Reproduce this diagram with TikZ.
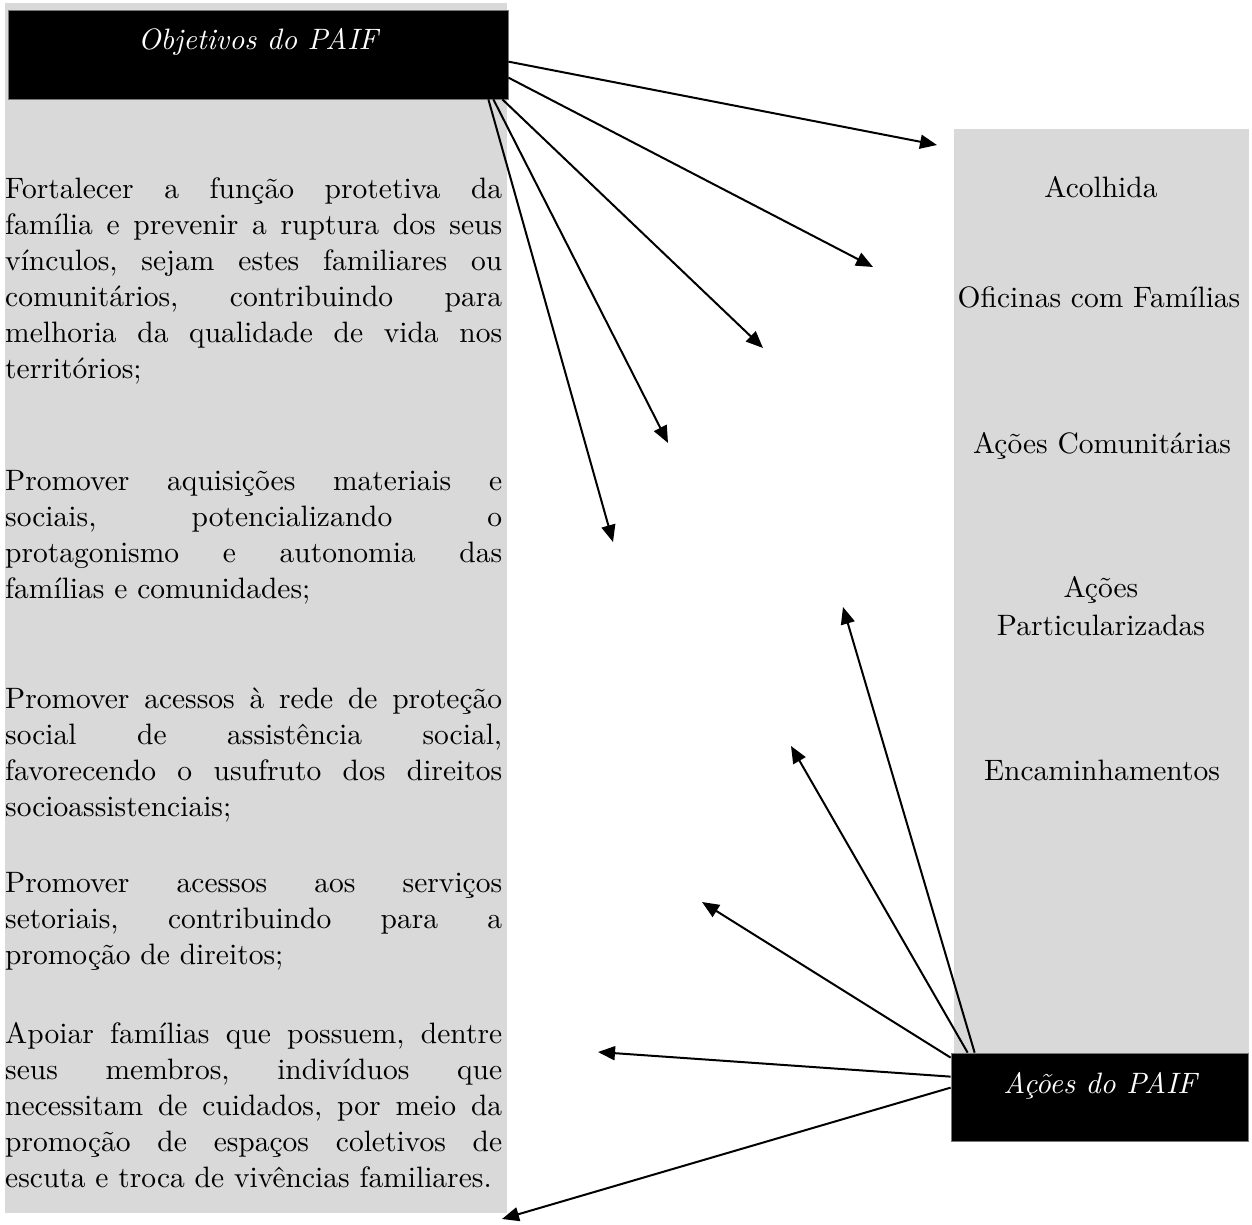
\documentclass[tikz,border=0pt]{standalone}
\usepackage{fontspec}
\setmainfont{lmroman10-regular.otf}[ItalicFont=lmroman10-italic.otf]
\usetikzlibrary{arrows.meta,calc}
\definecolor{panelgray}{RGB}{217,217,217}
\definecolor{edgegray}{RGB}{120,120,120}
\newlength\colw
\setlength\colw{497pt}
\newcommand\jline[1]{\hbox to \colw{\spaceskip=0.333em plus 1fil\relax\xspaceskip=\spaceskip #1}}
\newcommand\lline[1]{\hbox{#1}}
\tikzset{
  panel/.style={fill=panelgray, draw=none, inner sep=0pt},
  blackbox/.style={fill=black, draw=edgegray, line width=0.75pt, inner sep=0pt},
  lbl/.style={anchor=base, inner sep=0pt, text=white, font=\fontsize{29.5}{36.1}\selectfont\itshape},
  para/.style={anchor=base west, inner sep=0pt, font=\fontsize{29.5}{36.1}\selectfont\frenchspacing},
  item/.style={anchor=base, inner sep=0pt, font=\fontsize{29.5}{36.1}\selectfont},
  conn/.style={line width=2pt, -{Triangle[length=17pt,width=14pt]}},
}
\begin{document}
\begin{tikzpicture}[x=1pt,y=-1pt]
\useasboundingbox (0,0) rectangle (1252,1225);
% panels
\node[panel, minimum width=502pt, minimum height=1210pt] (lpanel) at (256,608) {};
\node[panel, minimum width=295pt, minimum height=924pt] (rpanel) at (1101.5,591) {};
% left paragraphs
\node[para] (p1) at (5,198) {\vtop{%
\jline{Fortalecer a função protetiva da}
\jline{família e prevenir a ruptura dos seus}
\jline{vínculos, sejam estes familiares ou}
\jline{comunitários, contribuindo para}
\jline{melhoria da qualidade de vida nos}
\lline{territórios;}}};
\node[para] (p2) at (5,490) {\vtop{%
\jline{Promover aquisições materiais e}
\jline{sociais, potencializando o}
\jline{protagonismo e autonomia das}
\lline{famílias e comunidades;}}};
\node[para] (p3) at (5,708) {\vtop{%
\jline{Promover acessos à rede de proteção}
\jline{social de assistência social,}
\jline{favorecendo o usufruto dos direitos}
\lline{socioassistenciais;}}};
\node[para] (p4) at (5,892) {\vtop{%
\jline{Promover acessos aos serviços}
\jline{setoriais, contribuindo para a}
\lline{promoção de direitos;}}};
\node[para] (p5) at (5,1043) {\vtop{%
\jline{Apoiar famílias que possuem, dentre}
\jline{seus membros, indivíduos que}
\jline{necessitam de cuidados, por meio da}
\jline{promoção de espaços coletivos de}
\lline{escuta e troca de vivências familiares.}}};
% right items
\node[item] (a1) at (1101,197) {Acolhida};
\node[item] (a2) at (1099,307) {Oficinas com Famílias};
\node[item] (a3) at (1102,453) {Ações Comunitárias};
\node[item] (a4) at (1101,597) {Ações};
\node[item] (a4b) at (1101,635) {Particularizadas};
\node[item] (a5) at (1102,780) {Encaminhamentos};
% black boxes
\node[blackbox, minimum width=500pt, minimum height=89pt] (obj) at (258,54.5) {};
\node[lbl] (objt) at (258,50) {Objetivos do PAIF};
\node[blackbox, minimum width=297pt, minimum height=88pt] (acoes) at (1099.5,1097) {};
\node[lbl] (acoest) at (1100,1093) {Ações do PAIF};
% arrow tips
\coordinate (t1) at (937,145);
\coordinate (t2) at (873,267);
\coordinate (t3) at (763,348);
\coordinate (t4) at (668,443);
\coordinate (t5) at (613,542);
\coordinate (tA) at (843,607);
\coordinate (tB) at (791,746);
\coordinate (tC) at (702,902);
\coordinate (tD) at (598,1052);
\coordinate (tE) at (502,1219);
% connectors from Objetivos
\draw[conn] ($(obj.north east)+(0,52)$) -- (t1);
\draw[conn] ($(obj.north east)+(0,68)$) -- (t2);
\draw[conn] ($(obj.south east)+(-6,0)$) -- (t3);
\draw[conn] ($(obj.south east)+(-15,0)$) -- (t4);
\draw[conn] ($(obj.south east)+(-20,0)$) -- (t5);
% connectors from Acoes
\draw[conn] ($(acoes.north west)+(24,0)$) -- (tA);
\draw[conn] ($(acoes.north west)+(17,0)$) -- (tB);
\draw[conn] ($(acoes.north west)+(0,5)$) -- (tC);
\draw[conn] ($(acoes.north west)+(0,24)$) -- (tD);
\draw[conn] ($(acoes.north west)+(0,35)$) -- (tE);
\end{tikzpicture}
\end{document}
